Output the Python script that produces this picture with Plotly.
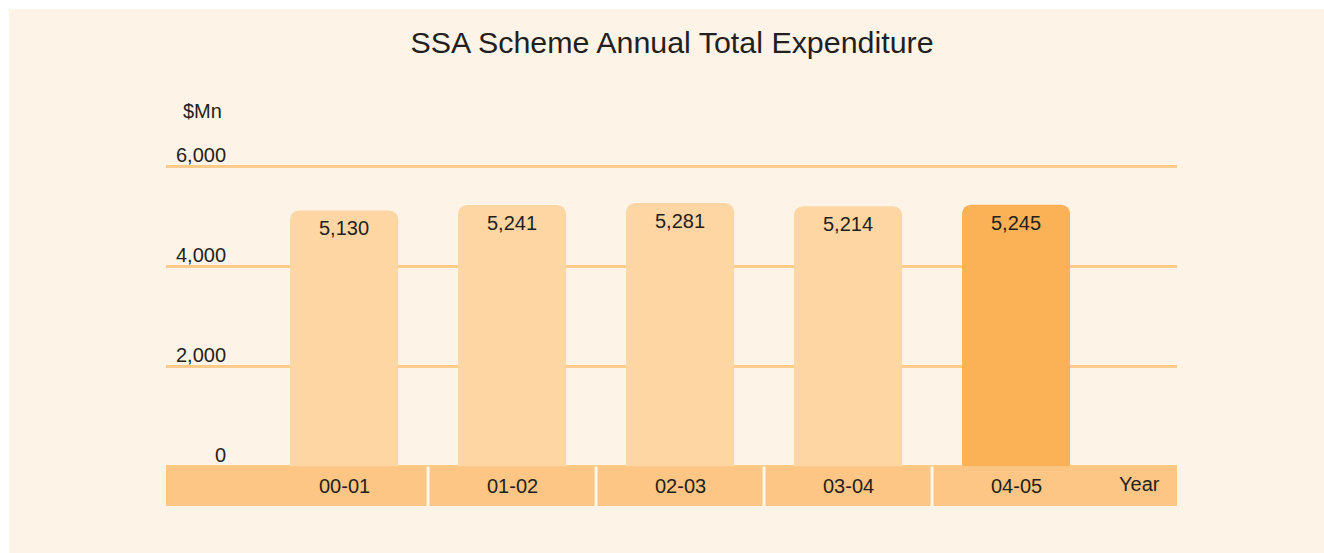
import plotly.graph_objects as go

# ---- data ----
categories = ["00-01", "01-02", "02-03", "03-04", "04-05"]
values = [5130, 5241, 5281, 5214, 5245]
value_labels = ["5,130", "5,241", "5,281", "5,214", "5,245"]
y_ticks = [0, 2000, 4000, 6000]
y_tick_labels = ["0", "2,000", "4,000", "6,000"]
title_text = "SSA Scheme Annual Total Expenditure"
y_unit = "$Mn"
x_unit = "Year"

# ---- styles ----
W, H = 1324, 553
BG = "#FEF3E7"
BAR = "#FDD6A4"
BAR_HI = "#FBB257"
BAND = "#FDC684"
GRID = "#FDCB8B"
TXT = "#231F20"
FONT = "Liberation Sans, Arial, Helvetica, sans-serif"

# plot area in page pixels
PL, PR, PT, PB = 166, 1177, 157, 506
PW, PH = PR - PL, PB - PT

x_idx = list(range(len(categories)))
colors = [BAR] * (len(categories) - 1) + [BAR_HI]

X_RANGE = [-1.06, 4.958]
Y_RANGE = [-790, 6200]
BAND_BOTTOM = -790

fig = go.Figure()
fig.add_trace(go.Bar(
    x=x_idx, y=values, width=0.643,
    marker=dict(color=colors, line=dict(width=0), cornerradius=9),
    hoverinfo="skip", cliponaxis=False,
))

shapes = []
# thin white outer margin (top and left)
shapes.append(dict(type="rect", xref="paper", yref="paper",
                   x0=-0.3, x1=1.3, y0=(PB - 9) / PH, y1=1.8,
                   fillcolor="white", line=dict(width=0), layer="below"))
shapes.append(dict(type="rect", xref="paper", yref="paper",
                   x0=-0.3, x1=(9 - PL) / PW, y0=-0.3, y1=1.8,
                   fillcolor="white", line=dict(width=0), layer="below"))
# category band under the bars
shapes.append(dict(type="rect", xref="x", yref="y",
                   x0=X_RANGE[0], x1=X_RANGE[1], y0=BAND_BOTTOM, y1=0,
                   fillcolor=BAND, line=dict(width=0), layer="above"))
for i in x_idx[:-1]:
    shapes.append(dict(type="line", xref="x", yref="y",
                       x0=i + 0.5, x1=i + 0.5, y0=BAND_BOTTOM, y1=0,
                       line=dict(color="#FFF6EC", width=3), layer="above"))

annotations = []
# value labels inside the top of each bar
for i, v, lab in zip(x_idx, values, value_labels):
    annotations.append(dict(x=i, xref="x", y=v, yref="y", yshift=-18,
                            text=lab, showarrow=False, xanchor="center",
                            yanchor="middle",
                            font=dict(size=20, color=TXT, family=FONT)))
for v, lab in zip(y_ticks, y_tick_labels):
    annotations.append(dict(x=(228 - PL) / PW, xref="paper", y=v, yref="y",
                            text=lab, showarrow=False, xanchor="right",
                            yanchor="middle", yshift=12,
                            font=dict(size=20, color=TXT, family=FONT)))
for i, c in zip(x_idx, categories):
    annotations.append(dict(x=i, xref="x", y=BAND_BOTTOM / 2, yref="y",
                            text=c, showarrow=False, xanchor="center",
                            yanchor="middle",
                            font=dict(size=20, color=TXT, family=FONT)))
annotations.append(dict(x=(1139 - PL) / PW, xref="paper",
                        y=BAND_BOTTOM / 2, yref="y", yshift=2,
                        text=x_unit, showarrow=False, xanchor="center",
                        yanchor="middle",
                        font=dict(size=20, color=TXT, family=FONT)))
annotations.append(dict(x=(202 - PL) / PW, xref="paper",
                        y=(PB - 111) / PH, yref="paper",
                        text=y_unit, showarrow=False, xanchor="center",
                        yanchor="middle",
                        font=dict(size=20, color=TXT, family=FONT)))

fig.update_layout(
    width=W, height=H,
    margin=dict(l=PL, r=W - PR, t=PT, b=H - PB, pad=0),
    paper_bgcolor=BG, plot_bgcolor=BG,
    showlegend=False,
    title=dict(text=title_text, x=672 / W, xanchor="center",
               y=1 - 42 / H, yanchor="middle",
               font=dict(size=30.4, color=TXT, family=FONT)),
    xaxis=dict(range=X_RANGE, showgrid=False, zeroline=False,
               showticklabels=False, ticks="", showline=False, fixedrange=True),
    yaxis=dict(range=Y_RANGE, tickvals=y_ticks, showgrid=True,
               gridcolor=GRID, gridwidth=3, zeroline=False,
               showticklabels=False, ticks="", showline=False, fixedrange=True),
    shapes=shapes, annotations=annotations,
    font=dict(family=FONT, color=TXT),
)

fig.write_html(
    "out.html",
    config={"displayModeBar": False},
    post_script="document.body.style.margin='0';document.body.style.overflow='hidden';",
)
